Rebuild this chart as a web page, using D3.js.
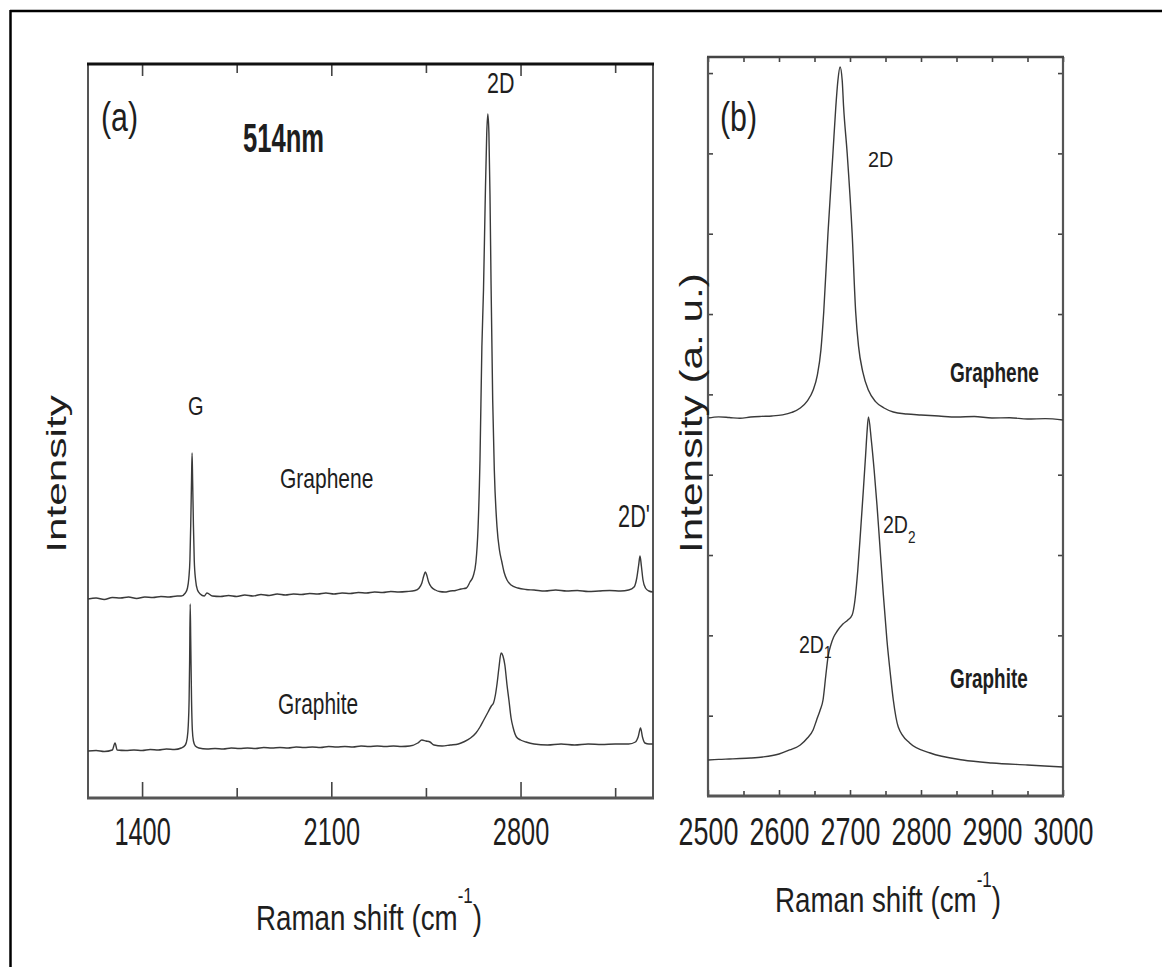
<!DOCTYPE html>
<html><head><meta charset="utf-8">
<script src="https://cdn.jsdelivr.net/npm/d3@7"></script>
<style>
body{margin:0;background:#fff}
svg{display:block}
text{font-family:"Liberation Sans",Arial,Helvetica,sans-serif;fill:#1e1e1e}
</style>
</head><body>
<svg id="c" width="1162" height="967"></svg>
<script>
// ---------- DATA (Raman shift in cm-1, intensity in arbitrary units) ----------
const domainA = [1200, 3290];
const majorTicksA = [1400, 2100, 2800];
const minorTicksA = [1750, 2450, 3150];

const grapheneA = [
[1200,199],[1230,200],[1260,198.5],[1290,200.5],[1320,200],[1350,201],[1380,199.5],[1410,201],[1440,200.5],[1470,201.5],
[1500,201],[1530,202],[1545,202],[1560,205],[1568,210],[1573,220],[1577,238],[1580,273],[1583,318],[1585,345],
[1587,318],[1590,273],[1593,238],[1598,218],[1605,208],[1615,204],[1630,202],[1640,205],[1660,202],[1690,201.5],
[1720,202.5],[1750,201.5],[1780,203],[1810,202],[1840,203.5],[1870,202.5],[1900,204],[1930,203],[1960,204],[1990,203.5],
[2020,204.5],[2050,204],[2080,205],[2110,204],[2140,205],[2170,204.5],[2200,205.5],[2230,205],[2260,206],[2290,205.5],
[2320,206.5],[2350,206],[2380,206.5],[2410,207.5],[2425,210],[2435,215],[2442,222],[2448,226],[2453,223],[2460,216],
[2470,211],[2485,208],[2500,206.5],[2520,206],[2540,207],[2560,207.5],[2580,209],[2600,210],[2613,216],[2625,222],
[2635,236],[2643,271],[2650,338],[2657,451],[2663,508],[2669,593],[2675,665],[2679,684],[2683,665],[2687,603],
[2691,513],[2697,398],[2703,328],[2713,271],[2722,248],[2731,236],[2740,225],[2750,218],[2765,213],[2790,210],
[2820,208.5],[2850,208],[2890,207],[2930,208],[2970,207],[3010,207.5],[3050,206.5],[3090,207],[3130,207.5],[3170,207],
[3200,208],[3220,211],[3230,220],[3237,233],[3242,242],[3247,232],[3253,218],[3262,210],[3275,207],[3290,206]
];

const graphiteA = [
[1200,47],[1230,47.5],[1260,46.5],[1290,48],[1300,55],[1308,48],[1340,47.5],[1370,48],[1400,47.5],[1430,48.5],
[1460,48],[1490,49],[1520,48.5],[1545,50],[1560,53],[1567,60],[1571,73],[1574,98],[1576,138],[1578,194],
[1580,158],[1583,98],[1586,68],[1590,57],[1597,52],[1610,50],[1640,49],[1670,49.5],[1700,49],[1730,50],
[1760,49.5],[1790,50],[1820,49.5],[1850,50.5],[1880,50],[1910,50.5],[1940,50],[1970,51],[2000,50.5],[2030,51],
[2060,50.5],[2090,51.5],[2120,51],[2150,51.5],[2180,51],[2210,52],[2240,51.5],[2270,52],[2300,51.5],[2330,52],
[2360,51.5],[2390,52],[2420,55],[2435,58],[2450,57],[2465,56],[2480,53],[2510,52],[2540,53],[2570,54],
[2593,56.5],[2615,60],[2635,65],[2650,71],[2664,78],[2680,86],[2692,92],[2700,95],[2707,103],[2713,114],
[2720,130],[2728,145],[2735,142],[2742,133],[2750,113],[2757,98],[2765,80],[2772,71],[2785,61],[2800,58],
[2820,56],[2850,54],[2900,53],[2950,54],[3000,53],[3050,54],[3100,53.5],[3150,54],[3200,54],[3225,56],
[3235,61],[3244,70],[3251,61],[3260,55],[3275,54],[3290,54]
];

const domainB = [2500, 3000];
const majorTicksB = [2500, 2600, 2700, 2800, 2900, 3000];
const minorTicksB = [2550, 2650, 2750, 2850, 2950];
const yTicksB = [100, 200, 300, 400, 500, 600, 700, 800, 900];

const grapheneB = [
[2500,470.6],[2515,472],[2530,471.2],[2545,470.2],[2560,471.8],[2575,472.6],[2590,473.1],[2605,474.5],[2618,477.5],[2630,483],
[2640,492],[2648,505],[2654,524],[2659,555],[2663,602.5],[2669,700.9],[2676,800.5],[2680,857.7],[2683,891],[2686,907.5],
[2689,891],[2691,857.7],[2696,800.5],[2703,700.9],[2708,602.5],[2712,560],[2718,528],[2726,505],[2736,491],[2748,483],
[2761,478],[2780,475.5],[2800,474.3],[2825,473],[2850,471.8],[2875,472.4],[2900,470.6],[2925,470.9],[2950,469.3],[2975,469.8],[3000,468.1]
];

const graphiteB = [
[2500,44.8],[2515,45.6],[2530,46.1],[2545,46.6],[2560,47.3],[2577,48.6],[2600,52.3],[2615,57.3],[2630,63.5],[2640,72.2],
[2648,82.2],[2653,94.6],[2658,107.1],[2662,119.5],[2666,150.6],[2669,173],[2673,188],[2677,197.9],[2682,205.4],[2690,214.1],
[2697,219.1],[2703,225.3],[2707,244],[2711,281.3],[2715,331.1],[2719,383.4],[2722,424.5],[2724,453.1],[2726,471.8],[2730,443.2],
[2734,405.8],[2738,362.3],[2742,312.5],[2747,250.2],[2752,194.2],[2757,150.6],[2761,119.5],[2768,85.9],[2784,66],[2813,53.5],
[2859,44.8],[2900,41.1],[2950,38.6],[3000,36.1]
];

// ---------- DRAWING ----------
const svg = d3.select('#c');
const ink = '#3a3a3a';

// outer frame (top and left edges)
svg.append('line').attr('x1',10).attr('y1',11).attr('x2',1162).attr('y2',11).attr('stroke','#000').attr('stroke-width',2.5);
svg.append('line').attr('x1',10.5).attr('y1',10).attr('x2',10.5).attr('y2',967).attr('stroke','#000').attr('stroke-width',2.5);

function txt(x, y, str, size, sx, opts = {}) {
  const rot = opts.rotate ? ` rotate(${opts.rotate})` : '';
  const t = svg.append('text')
    .attr('transform', `translate(${x},${y})${rot} scale(${sx},1)`)
    .attr('font-size', size)
    .attr('text-anchor', opts.anchor || 'start')
    .attr('font-weight', opts.bold ? 'bold' : 'normal')
    .text(str);
  return t;
}

// ===== Panel (a) =====
const A = {l: 88, t: 64, r: 653, b: 798};
const xA = d3.scaleLinear().domain(domainA).range([A.l, A.r]);
const yA = d3.scaleLinear().domain([0, 734]).range([A.b, A.t]);
const gA = svg.append('g');

gA.append('g').attr('transform', `translate(0,${A.b})`)
  .call(d3.axisBottom(xA).tickValues(majorTicksA).tickSizeInner(-16).tickSizeOuter(0).tickFormat(d3.format('d')))
  .call(g => g.select('.domain').remove())
  .call(g => g.selectAll('.tick line').attr('stroke', '#444').attr('stroke-width', 1.6))
  .call(g => g.selectAll('.tick text').attr('y', 0).attr('dy', 0)
    .attr('transform', 'translate(0,47) scale(0.65,1)').attr('font-size', 39)
    .attr('font-family', '"Liberation Sans",Arial,sans-serif').attr('fill', '#1e1e1e'));
gA.append('g').attr('transform', `translate(0,${A.b})`)
  .call(d3.axisBottom(xA).tickValues(minorTicksA).tickSizeInner(-10).tickSizeOuter(0).tickFormat(''))
  .call(g => g.select('.domain').remove())
  .call(g => g.selectAll('.tick line').attr('stroke', '#444').attr('stroke-width', 1.6));
gA.append('g').attr('transform', `translate(0,${A.t})`)
  .call(d3.axisTop(xA).tickValues(majorTicksA).tickSizeInner(-12).tickSizeOuter(0).tickFormat(''))
  .call(g => g.select('.domain').remove())
  .call(g => g.selectAll('.tick line').attr('stroke', '#444').attr('stroke-width', 1.6));
gA.append('g').attr('transform', `translate(0,${A.t})`)
  .call(d3.axisTop(xA).tickValues(minorTicksA).tickSizeInner(-9).tickSizeOuter(0).tickFormat(''))
  .call(g => g.select('.domain').remove())
  .call(g => g.selectAll('.tick line').attr('stroke', '#444').attr('stroke-width', 1.6));

gA.append('line').attr('x1', A.l).attr('x2', A.l).attr('y1', A.t).attr('y2', A.b).attr('stroke', '#555').attr('stroke-width', 2);
gA.append('line').attr('x1', A.r).attr('x2', A.r).attr('y1', A.t).attr('y2', A.b).attr('stroke', '#555').attr('stroke-width', 2);
gA.append('line').attr('x1', A.l - 1).attr('x2', A.r + 1).attr('y1', A.b).attr('y2', A.b).attr('stroke', '#555').attr('stroke-width', 3);
gA.append('line').attr('x1', A.l - 1).attr('x2', A.r + 1).attr('y1', A.t).attr('y2', A.t).attr('stroke', '#111').attr('stroke-width', 3);

const lineA = d3.line().x(d => xA(d[0])).y(d => yA(d[1])).curve(d3.curveMonotoneX);
gA.append('path').datum(grapheneA).attr('d', lineA).attr('fill', 'none').attr('stroke', ink).attr('stroke-width', 1.4).attr('stroke-linejoin', 'round');
gA.append('path').datum(graphiteA).attr('d', lineA).attr('fill', 'none').attr('stroke', ink).attr('stroke-width', 1.4).attr('stroke-linejoin', 'round');

txt(101, 131, '(a)', 40, 0.76);
txt(243, 152, '514nm', 40, 0.64, {bold: true});
txt(487, 93, '2D', 29, 0.74);
txt(188, 415, 'G', 26, 0.77);
txt(280, 488, 'Graphene', 28, 0.75);
txt(278, 714, 'Graphite', 29, 0.72);
txt(650, 527, "2D'", 31, 0.7, {anchor: 'end'});
txt(66, 474, 'Intensity', 27, 1.57, {rotate: -90, anchor: 'middle'});
{
  const t = txt(256, 930, 'Raman shift (cm', 36, 0.77);
  t.append('tspan').attr('font-size', 22).attr('dy', -27).text('-1');
  t.append('tspan').attr('font-size', 36).attr('dy', 27).text(')');
}

// ===== Panel (b) =====
const B = {l: 708, t: 57, r: 1063, b: 796};
const xB = d3.scaleLinear().domain(domainB).range([B.l, B.r]);
const yB = d3.scaleLinear().domain([0, 920]).range([B.b, B.t]);
const gB = svg.append('g');

gB.append('g').attr('transform', `translate(0,${B.b})`)
  .call(d3.axisBottom(xB).tickValues(majorTicksB).tickSizeInner(-6).tickSizeOuter(0).tickFormat(d3.format('d')))
  .call(g => g.select('.domain').remove())
  .call(g => g.selectAll('.tick line').attr('stroke', '#444').attr('stroke-width', 1.6))
  .call(g => g.selectAll('.tick text').attr('y', 0).attr('dy', 0)
    .attr('transform', 'translate(0,49) scale(0.69,1)').attr('font-size', 39)
    .attr('font-family', '"Liberation Sans",Arial,sans-serif').attr('fill', '#1e1e1e'));
gB.append('g').attr('transform', `translate(0,${B.b})`)
  .call(d3.axisBottom(xB).tickValues(minorTicksB).tickSizeInner(-5).tickSizeOuter(0).tickFormat(''))
  .call(g => g.select('.domain').remove())
  .call(g => g.selectAll('.tick line').attr('stroke', '#444').attr('stroke-width', 1.6));
gB.append('g').attr('transform', `translate(0,${B.t})`)
  .call(d3.axisTop(xB).tickValues(majorTicksB.concat(minorTicksB)).tickSizeInner(-5).tickSizeOuter(0).tickFormat(''))
  .call(g => g.select('.domain').remove())
  .call(g => g.selectAll('.tick line').attr('stroke', '#444').attr('stroke-width', 1.6));
gB.append('g').attr('transform', `translate(${B.l},0)`)
  .call(d3.axisLeft(yB).tickValues(yTicksB).tickSizeInner(-5).tickSizeOuter(0).tickFormat(''))
  .call(g => g.select('.domain').remove())
  .call(g => g.selectAll('.tick line').attr('stroke', '#444').attr('stroke-width', 1.6));
gB.append('g').attr('transform', `translate(${B.r},0)`)
  .call(d3.axisRight(yB).tickValues(yTicksB).tickSizeInner(-5).tickSizeOuter(0).tickFormat(''))
  .call(g => g.select('.domain').remove())
  .call(g => g.selectAll('.tick line').attr('stroke', '#444').attr('stroke-width', 1.6));

gB.append('line').attr('x1', B.l).attr('x2', B.l).attr('y1', B.t).attr('y2', B.b).attr('stroke', '#555').attr('stroke-width', 2.2);
gB.append('line').attr('x1', B.r).attr('x2', B.r).attr('y1', B.t).attr('y2', B.b).attr('stroke', '#555').attr('stroke-width', 2.2);
gB.append('line').attr('x1', B.l - 1).attr('x2', B.r + 1).attr('y1', B.b).attr('y2', B.b).attr('stroke', '#555').attr('stroke-width', 3);
gB.append('line').attr('x1', B.l - 1).attr('x2', B.r + 1).attr('y1', B.t).attr('y2', B.t).attr('stroke', '#444').attr('stroke-width', 2.4);

const lineB = d3.line().x(d => xB(d[0])).y(d => yB(d[1])).curve(d3.curveMonotoneX);
gB.append('path').datum(grapheneB).attr('d', lineB).attr('fill', 'none').attr('stroke', ink).attr('stroke-width', 1.4).attr('stroke-linejoin', 'round');
gB.append('path').datum(graphiteB).attr('d', lineB).attr('fill', 'none').attr('stroke', ink).attr('stroke-width', 1.4).attr('stroke-linejoin', 'round');

txt(720, 131, '(b)', 40, 0.76);
txt(868, 167, '2D', 22, 0.9);
txt(950, 382, 'Graphene', 28, 0.68, {bold: true});
txt(950, 688, 'Graphite', 27, 0.70, {bold: true});
{
  const t = txt(883, 533, '2D', 23, 0.85);
  t.append('tspan').attr('font-size', 16).attr('dy', 10).text('2');
}
{
  const t = txt(799, 653, '2D', 23, 0.85);
  t.append('tspan').attr('font-size', 16).attr('dy', 5).text('1');
}
txt(702, 413, 'Intensity (a. u.)', 31, 1.366, {rotate: -90, anchor: 'middle'});
{
  const t = txt(775, 912, 'Raman shift (cm', 36, 0.77);
  t.append('tspan').attr('font-size', 22).attr('dy', -25).text('-1');
  t.append('tspan').attr('font-size', 36).attr('dy', 25).text(')');
}
</script>
</body></html>
